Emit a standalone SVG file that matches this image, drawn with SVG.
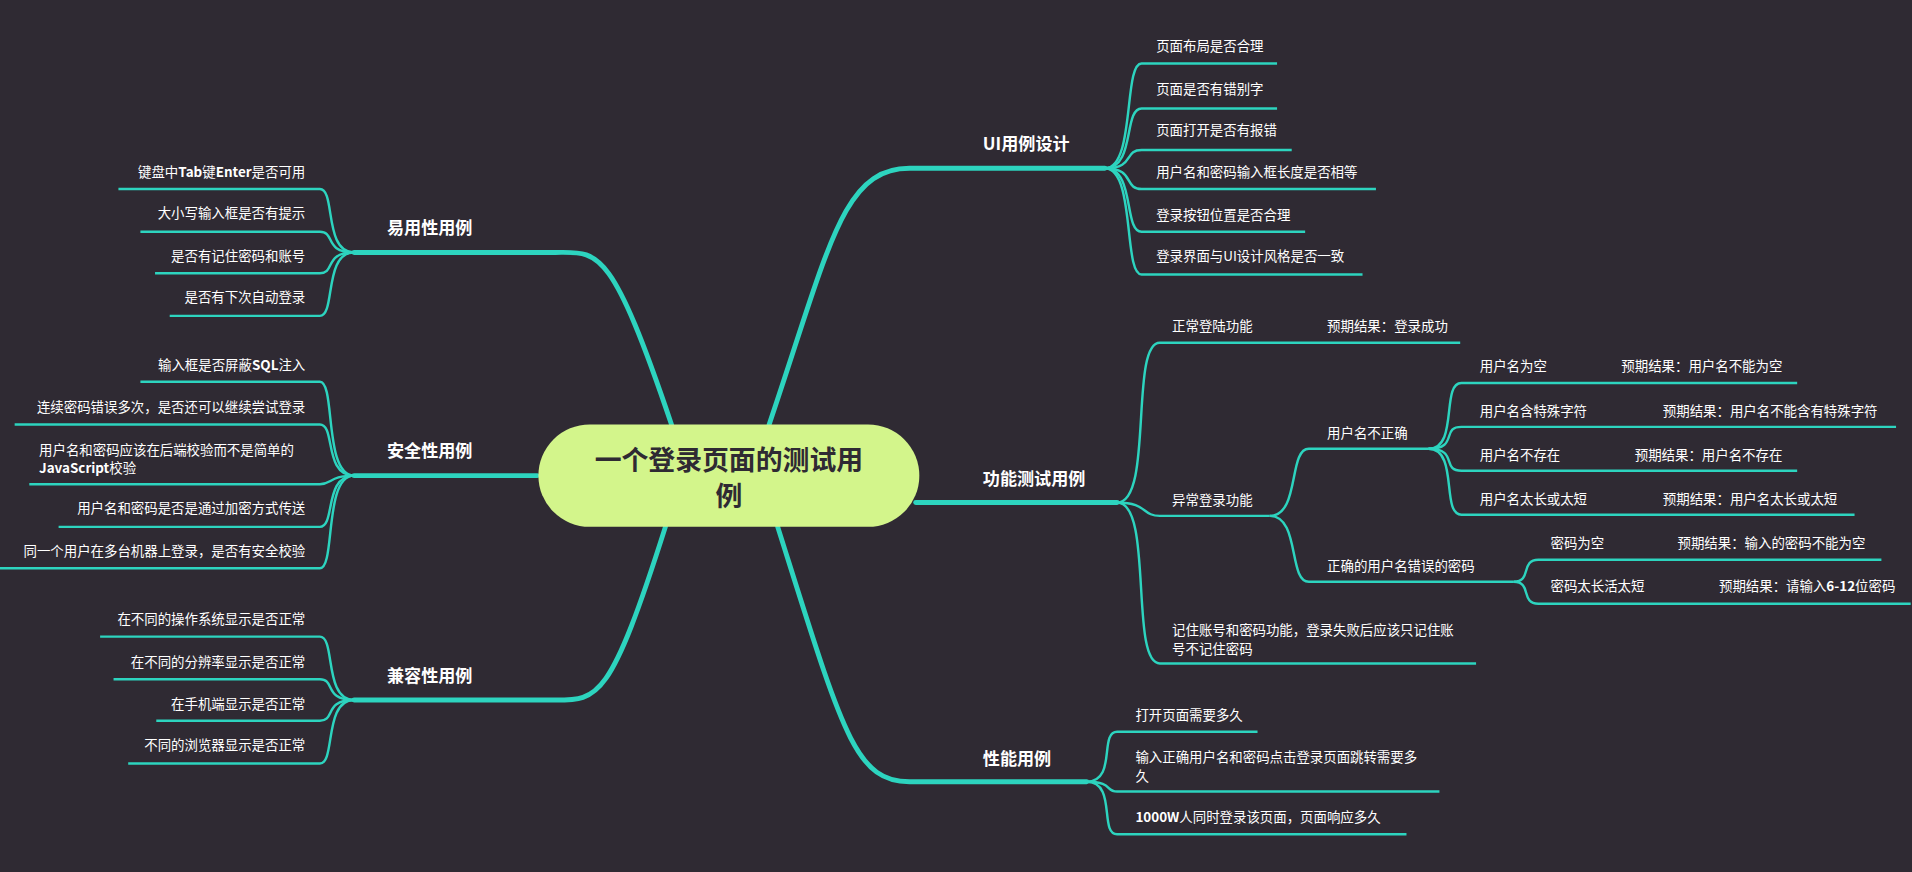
<svg xmlns="http://www.w3.org/2000/svg" width="1912" height="872" viewBox="0 0 1912 872">
<style>
.bg{fill:#2f2a33}
.m{fill:none;stroke:#2dd4bf;stroke-width:4;stroke-linecap:round}
.s{fill:none;stroke:#2dd4bf;stroke-width:2}
text{font-family:"Noto Sans CJK SC","Noto Sans",sans-serif;fill:#fff;font-size:11px}
.b{font-weight:bold;font-size:14px}
.r{text-anchor:end}
.c{font-weight:bold;font-size:22px;fill:#2f2a33;text-anchor:middle}
</style>
<rect class="bg" width="1912" height="872"/>
<g transform="scale(1.2209,1.2196)">
<g id="connectors">
<path class="m" d="M630,348 C680,200 690,138 745,138 L905,138"/>
<path class="m" d="M750,412 L915,412"/>
<path class="m" d="M637,432 C690,600 700,641 745,641 L890,641"/>
<path class="m" d="M550,348 C500,200 490,207 455,207 L290,207"/>
<path class="m" d="M440,390 L290,390"/>
<path class="m" d="M545,432 C500,574 490,574 455,574 L290,574"/>
<path class="s" d="M905,138 C930,138 920,52 935,52 L1046,52"/>
<path class="s" d="M905,138 C930,138 920,89 935,89 L1046,89"/>
<path class="s" d="M905,138 C930,138 920,123 935,123 L1058,123"/>
<path class="s" d="M905,138 C930,138 920,155 935,155 L1127,155"/>
<path class="s" d="M905,138 C930,138 920,190 935,190 L1069,190"/>
<path class="s" d="M905,138 C930,138 920,225 935,225 L1116,225"/>
<path class="s" d="M915,412 C945,412 925,281 950,281 L1196,281"/>
<path class="s" d="M915,412 C940,412 935,423 950,423 L1040,423"/>
<path class="s" d="M915,412 C945,412 925,544 950,544 L1209,544"/>
<path class="s" d="M1040,423 C1065,423 1055,368 1072,368 L1170,368"/>
<path class="s" d="M1040,423 C1065,423 1055,477 1072,477 L1240,477"/>
<path class="s" d="M1170,368 C1195,368 1180,314 1197,314 L1472,314"/>
<path class="s" d="M1170,368 C1195,368 1180,350 1197,350 L1553,350"/>
<path class="s" d="M1170,368 C1195,368 1180,386 1197,386 L1472,386"/>
<path class="s" d="M1170,368 C1195,368 1180,422 1197,422 L1519,422"/>
<path class="s" d="M1240,477 C1255,477 1245,459 1260,459 L1541,459"/>
<path class="s" d="M1240,477 C1255,477 1245,495 1260,495 L1565,495"/>
<path class="s" d="M890,641 C915,641 900,600 915,600 L1030,600"/>
<path class="s" d="M890,641 C912,641 905,649 915,649 L1179,649"/>
<path class="s" d="M890,641 C915,641 900,684 915,684 L1152,684"/>
<path class="s" d="M290,207 C265,207 275,155 262,155 L97,155"/>
<path class="s" d="M290,207 C265,207 275,190 262,190 L115,190"/>
<path class="s" d="M290,207 C265,207 275,224 262,224 L127,224"/>
<path class="s" d="M290,207 C265,207 275,259 262,259 L139,259"/>
<path class="s" d="M290,390 C265,390 275,313 262,313 L115,313"/>
<path class="s" d="M290,390 C265,390 275,348 262,348 L12,348"/>
<path class="s" d="M290,390 C270,390 272,397 262,397 L24,397"/>
<path class="s" d="M290,390 C265,390 275,432 262,432 L48,432"/>
<path class="s" d="M290,390 C265,390 275,466 262,466 L0,466"/>
<path class="s" d="M290,574 C265,574 275,522 262,522 L82,522"/>
<path class="s" d="M290,574 C265,574 275,557 262,557 L93,557"/>
<path class="s" d="M290,574 C265,574 275,591 262,591 L128,591"/>
<path class="s" d="M290,574 C265,574 275,626 262,626 L105,626"/>
</g>
<g id="center"><rect x="441" y="348" width="312" height="84" rx="42" fill="#d3f58b"/>
<text class="c" x="597" y="385">一个登录页面的测试用</text><text class="c" x="597" y="415">例</text></g>
<g id="ui"><text class="b" x="805" y="123">UI用例设计</text>
<text x="947" y="42">页面布局是否合理</text><text x="947" y="77">页面是否有错别字</text><text x="947" y="111">页面打开是否有报错</text><text x="947" y="145">用户名和密码输入框长度是否相等</text><text x="947" y="180">登录按钮位置是否合理</text><text x="947" y="214">登录界面与UI设计风格是否一致</text></g>
<g id="func"><text class="b" x="805" y="398">功能测试用例</text>
<text x="960" y="271">正常登陆功能</text><text x="1087" y="271">预期结果：登录成功</text>
<text x="960" y="414">异常登录功能</text>
<text x="1087" y="359">用户名不正确</text>
<text x="1212" y="304">用户名为空</text><text x="1328" y="304">预期结果：用户名不能为空</text>
<text x="1212" y="341">用户名含特殊字符</text><text x="1362" y="341">预期结果：用户名不能含有特殊字符</text>
<text x="1212" y="377">用户名不存在</text><text x="1339" y="377">预期结果：用户名不存在</text>
<text x="1212" y="413">用户名太长或太短</text><text x="1362" y="413">预期结果：用户名太长或太短</text>
<text x="1087" y="468">正确的用户名错误的密码</text>
<text x="1270" y="449">密码为空</text><text x="1374" y="449">预期结果：输入的密码不能为空</text>
<text x="1270" y="485">密码太长活太短</text><text x="1408" y="485">预期结果：请输入<tspan font-weight="bold">6-12</tspan>位密码</text>
<text x="960" y="521">记住账号和密码功能，登录失败后应该只记住账</text><text x="960" y="536">号不记住密码</text></g>
<g id="perf"><text class="b" x="805" y="627">性能用例</text>
<text x="930" y="590">打开页面需要多久</text><text x="930" y="625">输入正确用户名和密码点击登录页面跳转需要多</text><text x="930" y="640">久</text>
<text x="930" y="674"><tspan font-weight="bold">1000W</tspan>人同时登录该页面，页面响应多久</text></g>
<g id="easy"><text class="b" x="317" y="192">易用性用例</text>
<text class="r" x="250" y="145">键盘中<tspan font-weight="bold">Tab</tspan>键<tspan font-weight="bold">Enter</tspan>是否可用</text><text class="r" x="250" y="179">大小写输入框是否有提示</text><text class="r" x="250" y="214">是否有记住密码和账号</text><text class="r" x="250" y="248">是否有下次自动登录</text></g>
<g id="sec"><text class="b" x="317" y="375">安全性用例</text>
<text class="r" x="250" y="303">输入框是否屏蔽<tspan font-weight="bold">SQL</tspan>注入</text><text class="r" x="250" y="338">连续密码错误多次，是否还可以继续尝试登录</text>
<text x="32" y="373">用户名和密码应该在后端校验而不是简单的</text><text x="32" y="388"><tspan font-weight="bold">JavaScript</tspan>校验</text>
<text class="r" x="250" y="421">用户名和密码是否是通过加密方式传送</text><text class="r" x="250" y="456">同一个用户在多台机器上登录，是否有安全校验</text></g>
<g id="compat"><text class="b" x="317" y="559">兼容性用例</text>
<text class="r" x="250" y="512">在不同的操作系统显示是否正常</text><text class="r" x="250" y="547">在不同的分辨率显示是否正常</text><text class="r" x="250" y="581">在手机端显示是否正常</text><text class="r" x="250" y="615">不同的浏览器显示是否正常</text></g>
</g>
</svg>
